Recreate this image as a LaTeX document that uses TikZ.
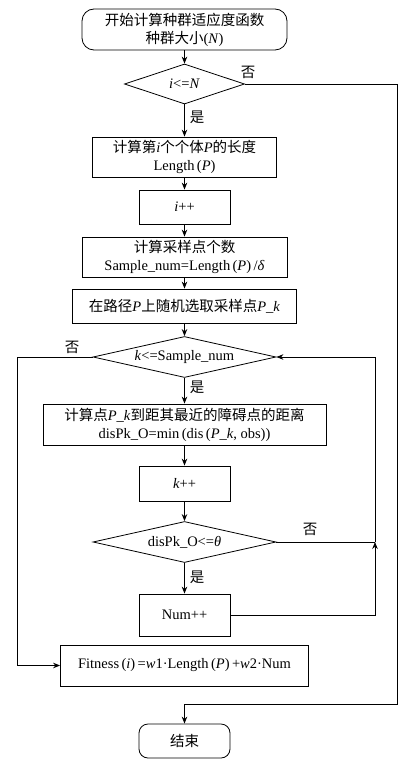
\documentclass[tikz,border=0pt]{standalone}
\usepackage{fontspec}
\setmainfont{Liberation Serif}
\newfontfamily\cjk{Noto Sans CJK SC}
\usetikzlibrary{shapes.geometric,arrows.meta}
\newcommand{\zh}[1]{{\cjk #1}}
\tikzset{
  proc/.style={draw, rectangle, inner sep=0pt, align=center},
  term/.style={draw, rectangle, rounded corners=12pt, inner sep=0pt, align=center},
  dec/.style={draw, diamond, inner sep=0pt, shape aspect=4.5},
  arr/.style={-{Stealth[length=7pt,width=5.5pt]}},
  lbl/.style={inner sep=0pt}
}
\begin{document}
\begin{tikzpicture}[x=1pt,y=-1pt,font=\fontsize{14.5}{18}\selectfont,line width=0.8pt]
\useasboundingbox (0,0) rectangle (408,765);
\node[term, minimum width=205pt, minimum height=41pt] (start) at (184.5,29.5) {\zh{开始计算种群适应度函数}\\\zh{种群大小}(\textit{N})};
\node[dec, minimum width=120pt, minimum height=40pt, shape aspect=3] (d1) at (184.5,84) {\textit{i}<=\textit{N}};
\node[proc, minimum width=184pt, minimum height=40pt] (b1) at (184.5,157) {\zh{计算第}\textit{i}\zh{个个体}\textit{P}\zh{的长度}\\Length\,(\textit{P})};
\node[proc, minimum width=91pt, minimum height=34pt] (ipp) at (184.5,207) {\textit{i}++};
\node[proc, minimum width=205pt, minimum height=40pt] (samp) at (184.5,257) {\zh{计算采样点个数}\\Sample\_num=Length\,(\textit{P})\,/\textit{δ}};
\node[proc, minimum width=224pt, minimum height=34pt] (rand) at (184.5,306) {\zh{在路径}\textit{P}\zh{上随机选取采样点}\textit{P\_k}};
\node[dec, minimum width=183pt, minimum height=41pt] (d2) at (184.5,357) {\textit{k}<=Sample\_num};
\node[proc, minimum width=283pt, minimum height=41pt] (dist) at (184.5,424.5) {\zh{计算点}\textit{P\_k}\zh{到距其最近的障碍点的距离}\\disPk\_O=min\,(dis\,(\textit{P\_k}, obs))};
\node[proc, minimum width=91pt, minimum height=35pt] (kpp) at (184.5,483.5) {\textit{k}++};
\node[dec, minimum width=183pt, minimum height=41pt] (d3) at (184.5,542) {disPk\_O<=\textit{θ}};
\node[proc, minimum width=91pt, minimum height=42pt] (num) at (184.5,615) {Num++};
\node[proc, minimum width=248pt, minimum height=41pt] (fit) at (184.5,665.5) {Fitness\,(\textit{i})\,=\textit{w}1·Length\,(\textit{P})\,+\textit{w}2·Num};
\node[term, rounded corners=9pt, minimum width=91pt, minimum height=34pt] (end) at (184.5,741) {\zh{结束}};
\coordinate (rt) at (397,704);
\coordinate (lt) at (17,357);
\coordinate (lp) at (375,542);
\draw[arr] (start) -- (d1);
\draw[arr] (d1) -- (b1);
\draw[arr] (b1) -- (ipp);
\draw[arr] (ipp) -- (samp);
\draw[arr] (samp) -- (rand);
\draw[arr] (rand) -- (d2);
\draw[arr] (d2) -- (dist);
\draw[arr] (dist) -- (kpp);
\draw[arr] (kpp) -- (d3);
\draw[arr] (d3) -- (num);
\draw[arr] (d1.east) -| (rt) -- (end.north |- rt) -- (end.north);
\draw[arr] (d2.west) -- (lt) |- (fit.west);
\draw[arr] (num.east) -| (lp);
\draw (d3.east) -- (lp);
\draw[arr] (lp) |- (d2.east);
\node[lbl] (n1) at (248,72) {\zh{否}};
\node[lbl] (y1) at (197,117) {\zh{是}};
\node[lbl] (n2) at (72,347) {\zh{否}};
\node[lbl] (y2) at (197,387) {\zh{是}};
\node[lbl] (n3) at (310,529) {\zh{否}};
\node[lbl] (y3) at (197,577) {\zh{是}};
\end{tikzpicture}
\end{document}
